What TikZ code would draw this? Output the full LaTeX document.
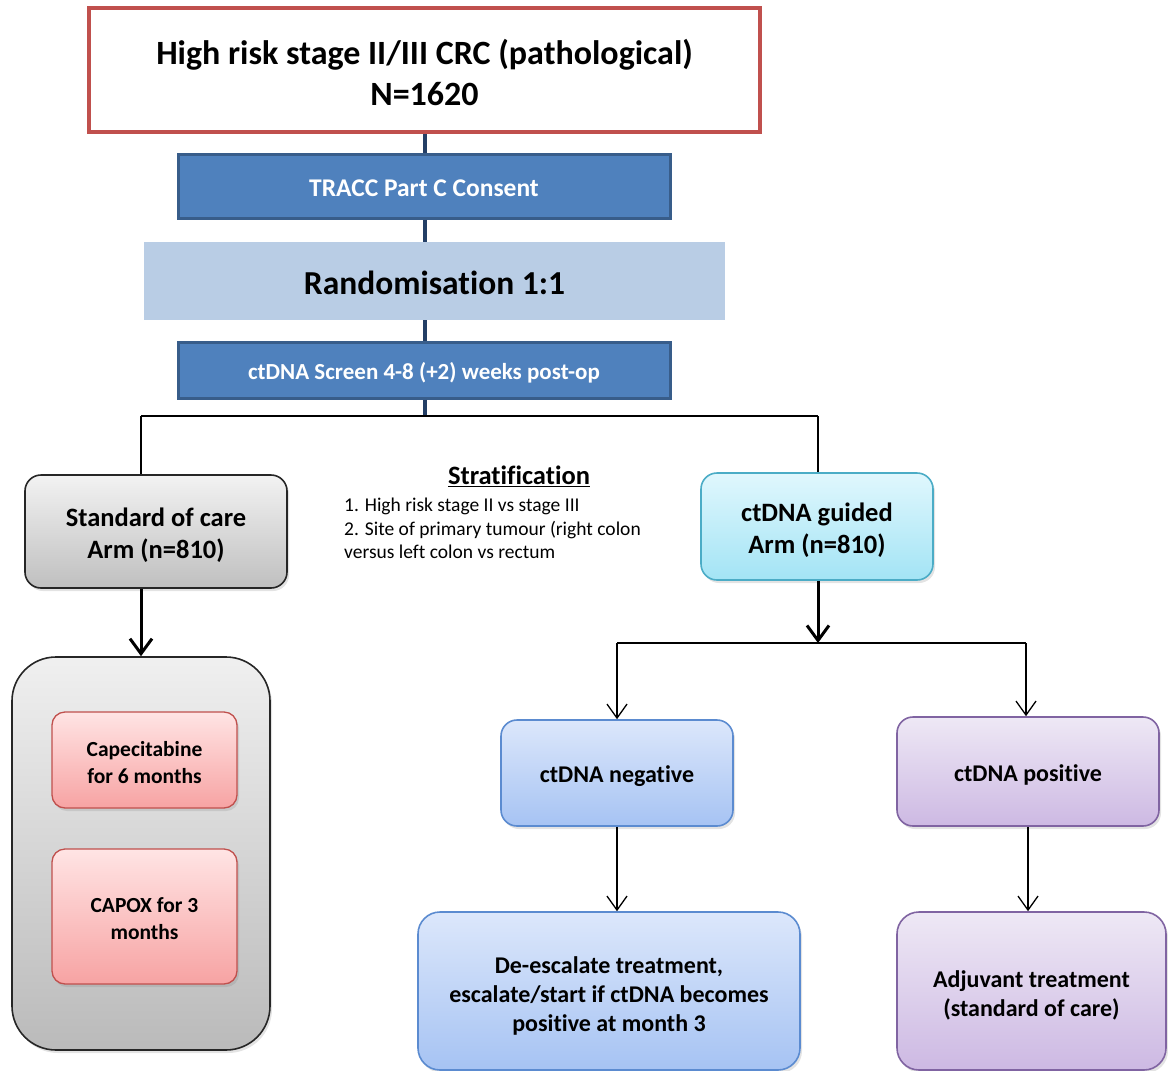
\documentclass[tikz,border=0pt]{standalone}
\usepackage{fontspec}
\setmainfont{Carlito}[Ligatures=NoCommon]
\usetikzlibrary{arrows.meta,shadows}

\definecolor{headred}{HTML}{C0504D}
\definecolor{barblue}{HTML}{4F81BD}
\definecolor{baredge}{HTML}{385D8A}
\definecolor{randblue}{HTML}{B9CDE5}
\definecolor{trunk}{HTML}{243F66}
\definecolor{cyanedge}{HTML}{4BACC6}
\definecolor{negedge}{HTML}{5B8BD0}
\definecolor{posedge}{HTML}{8064A2}

\tikzset{
  fs/.style 2 args={font=\bfseries\fontsize{#1}{#2}\selectfont},
  % box captions are set as centred labels so they can sit a little low in the box
  cap/.style n args={4}{label={[fs={#1}{#2}, align=center, yshift=-#3pt]center:{#4}}},
  headbox/.style={draw=headred, line width=3.5pt, fill=white},
  bluebar/.style={fill=barblue, draw=baredge, line width=3pt},
  randbar/.style={fill=randblue},
  rbox/.style={rectangle, rounded corners=16pt, line width=1.6pt,
    drop shadow={shadow xshift=2pt, shadow yshift=-3pt, opacity=0.22}},
  greybox/.style={rbox, draw=black!85, top color=black!5, bottom color=black!25},
  cyanbox/.style={rbox, draw=cyanedge, top color={rgb,255:red,224;green,247;blue,253},
    bottom color={rgb,255:red,163;green,228;blue,245}},
  pinkbox/.style={rbox, rounded corners=13pt, draw=headred, line width=1.3pt,
    top color={rgb,255:red,255;green,228;blue,228}, bottom color={rgb,255:red,247;green,163;blue,163}},
  negbox/.style={rbox, draw=negedge, top color={rgb,255:red,220;green,231;blue,251},
    bottom color={rgb,255:red,166;green,195;blue,243}},
  posbox/.style={rbox, draw=posedge, top color={rgb,255:red,238;green,232;blue,245},
    bottom color={rgb,255:red,205;green,185;blue,227}},
  thinarrow/.style={line width=1.3pt, -{Straight Barb[length=14pt,width=20pt]}},
  thickarrow/.style={line width=3pt, -{Straight Barb[length=15pt,width=22pt]}},
  branch/.style={line width=1.5pt},
  every label/.style={text=black},
}

\begin{document}
\begin{tikzpicture}[x=1pt,y=-1pt]
\useasboundingbox (0,0) rectangle (1168,1071);

% main column
\node[headbox, minimum width=671pt, minimum height=124pt,
  cap={34}{41}{2.5}{High risk stage II/III CRC (pathological)\\N=1620}] (head) at (424.5,70) {};
\node[bluebar, minimum width=492pt, minimum height=64pt,
  label={[fs={25.5}{30}, text=white, yshift=-2pt]center:TRACC Part C Consent}] (consent) at (424,186) {};
\node[randbar, minimum width=581pt, minimum height=78pt,
  cap={33.5}{40}{2}{Randomisation 1:1}] (rand) at (434.5,281) {};
\node[bluebar, minimum width=492pt, minimum height=56pt,
  label={[fs={23}{28}, text=white, yshift=-3pt]center:{ctDNA Screen 4-8 (+2) weeks post-op}}] (screen) at (424,370) {};

% arms
\node[greybox, minimum width=262pt, minimum height=113pt,
  cap={26.5}{32}{4}{Standard of care\\Arm (n=810)}] (soc) at (156,531.5) {};
\node[cyanbox, minimum width=232pt, minimum height=107pt,
  cap={26.5}{32}{4}{ctDNA guided\\Arm (n=810)}] (guided) at (817,526.5) {};

% stratification note
\node[fs={26.5}{30}] (strat) at (519,476) {\underline{Stratification}};
\node[anchor=north west, align=left, inner sep=0pt, font=\fontsize{19.5}{23.5}\selectfont] (stratlist) at (344,498)
  {1. High risk stage II vs stage III\\2. Site of primary tumour (right colon\\versus left colon vs rectum};

% standard of care options
\node[greybox, rounded corners=44pt, minimum width=258pt, minimum height=393pt,
  top color=black!6, bottom color=black!27] (soclist) at (141,853.5) {};
\node[pinkbox, minimum width=185pt, minimum height=96pt,
  cap={21.5}{27}{2.5}{Capecitabine\\for 6 months}] (cape) at (144.5,760) {};
\node[pinkbox, minimum width=185pt, minimum height=135pt,
  cap={21.5}{27}{2}{CAPOX for 3\\months}] (capox) at (144.5,916.5) {};

% ctDNA guided branches
\node[negbox, minimum width=232pt, minimum height=106pt,
  cap={24}{29}{3}{ctDNA negative}] (neg) at (617,773) {};
\node[posbox, minimum width=262pt, minimum height=109pt,
  cap={24}{29}{3}{ctDNA positive}] (pos) at (1028,771.5) {};
\node[negbox, rounded corners=22pt, minimum width=382pt, minimum height=158pt,
  cap={24}{29}{5}{De-escalate treatment,\\escalate/start if ctDNA becomes\\positive at month 3}] (deesc) at (609,991) {};
\node[posbox, rounded corners=22pt, minimum width=269pt, minimum height=158pt,
  cap={24}{29}{4}{Adjuvant treatment\\(standard of care)}] (adj) at (1031.5,991) {};

% trunk
\coordinate (split) at (425,416);
\coordinate (lbr) at (141,416);
\coordinate (rbr) at (818,416);
\begin{scope}[trunk, line width=4pt]
  \draw (head.south -| split) -- (consent.north -| split);
  \draw (consent.south -| split) -- (rand.north -| split);
  \draw (rand.south -| split) -- (screen.north -| split);
  \draw (screen.south -| split) -- (split);
\end{scope}

% split into the two arms
\draw[branch] (lbr) -- (rbr);
\draw[branch] (lbr) -- (lbr |- soc.north);
\draw[branch] (rbr) -- (rbr |- guided.north);

\draw[thickarrow] (soclist.north |- soc.south) -- (soclist.north);

\coordinate (gsplit) at (818,643);
\coordinate (gl) at (617,643);
\coordinate (gr) at (1026,643);
\draw[thickarrow] (guided.south -| gsplit) -- (gsplit);
\draw[branch] (gl) -- (gr);
\draw[thinarrow] (gl) -- (neg.north);
\draw[thinarrow] (gr) -- (gr |- pos.north);
\draw[thinarrow] (neg.south) -- (neg.south |- deesc.north);
\draw[thinarrow] (pos.south) -- (pos.south |- adj.north);
\end{tikzpicture}
\end{document}
